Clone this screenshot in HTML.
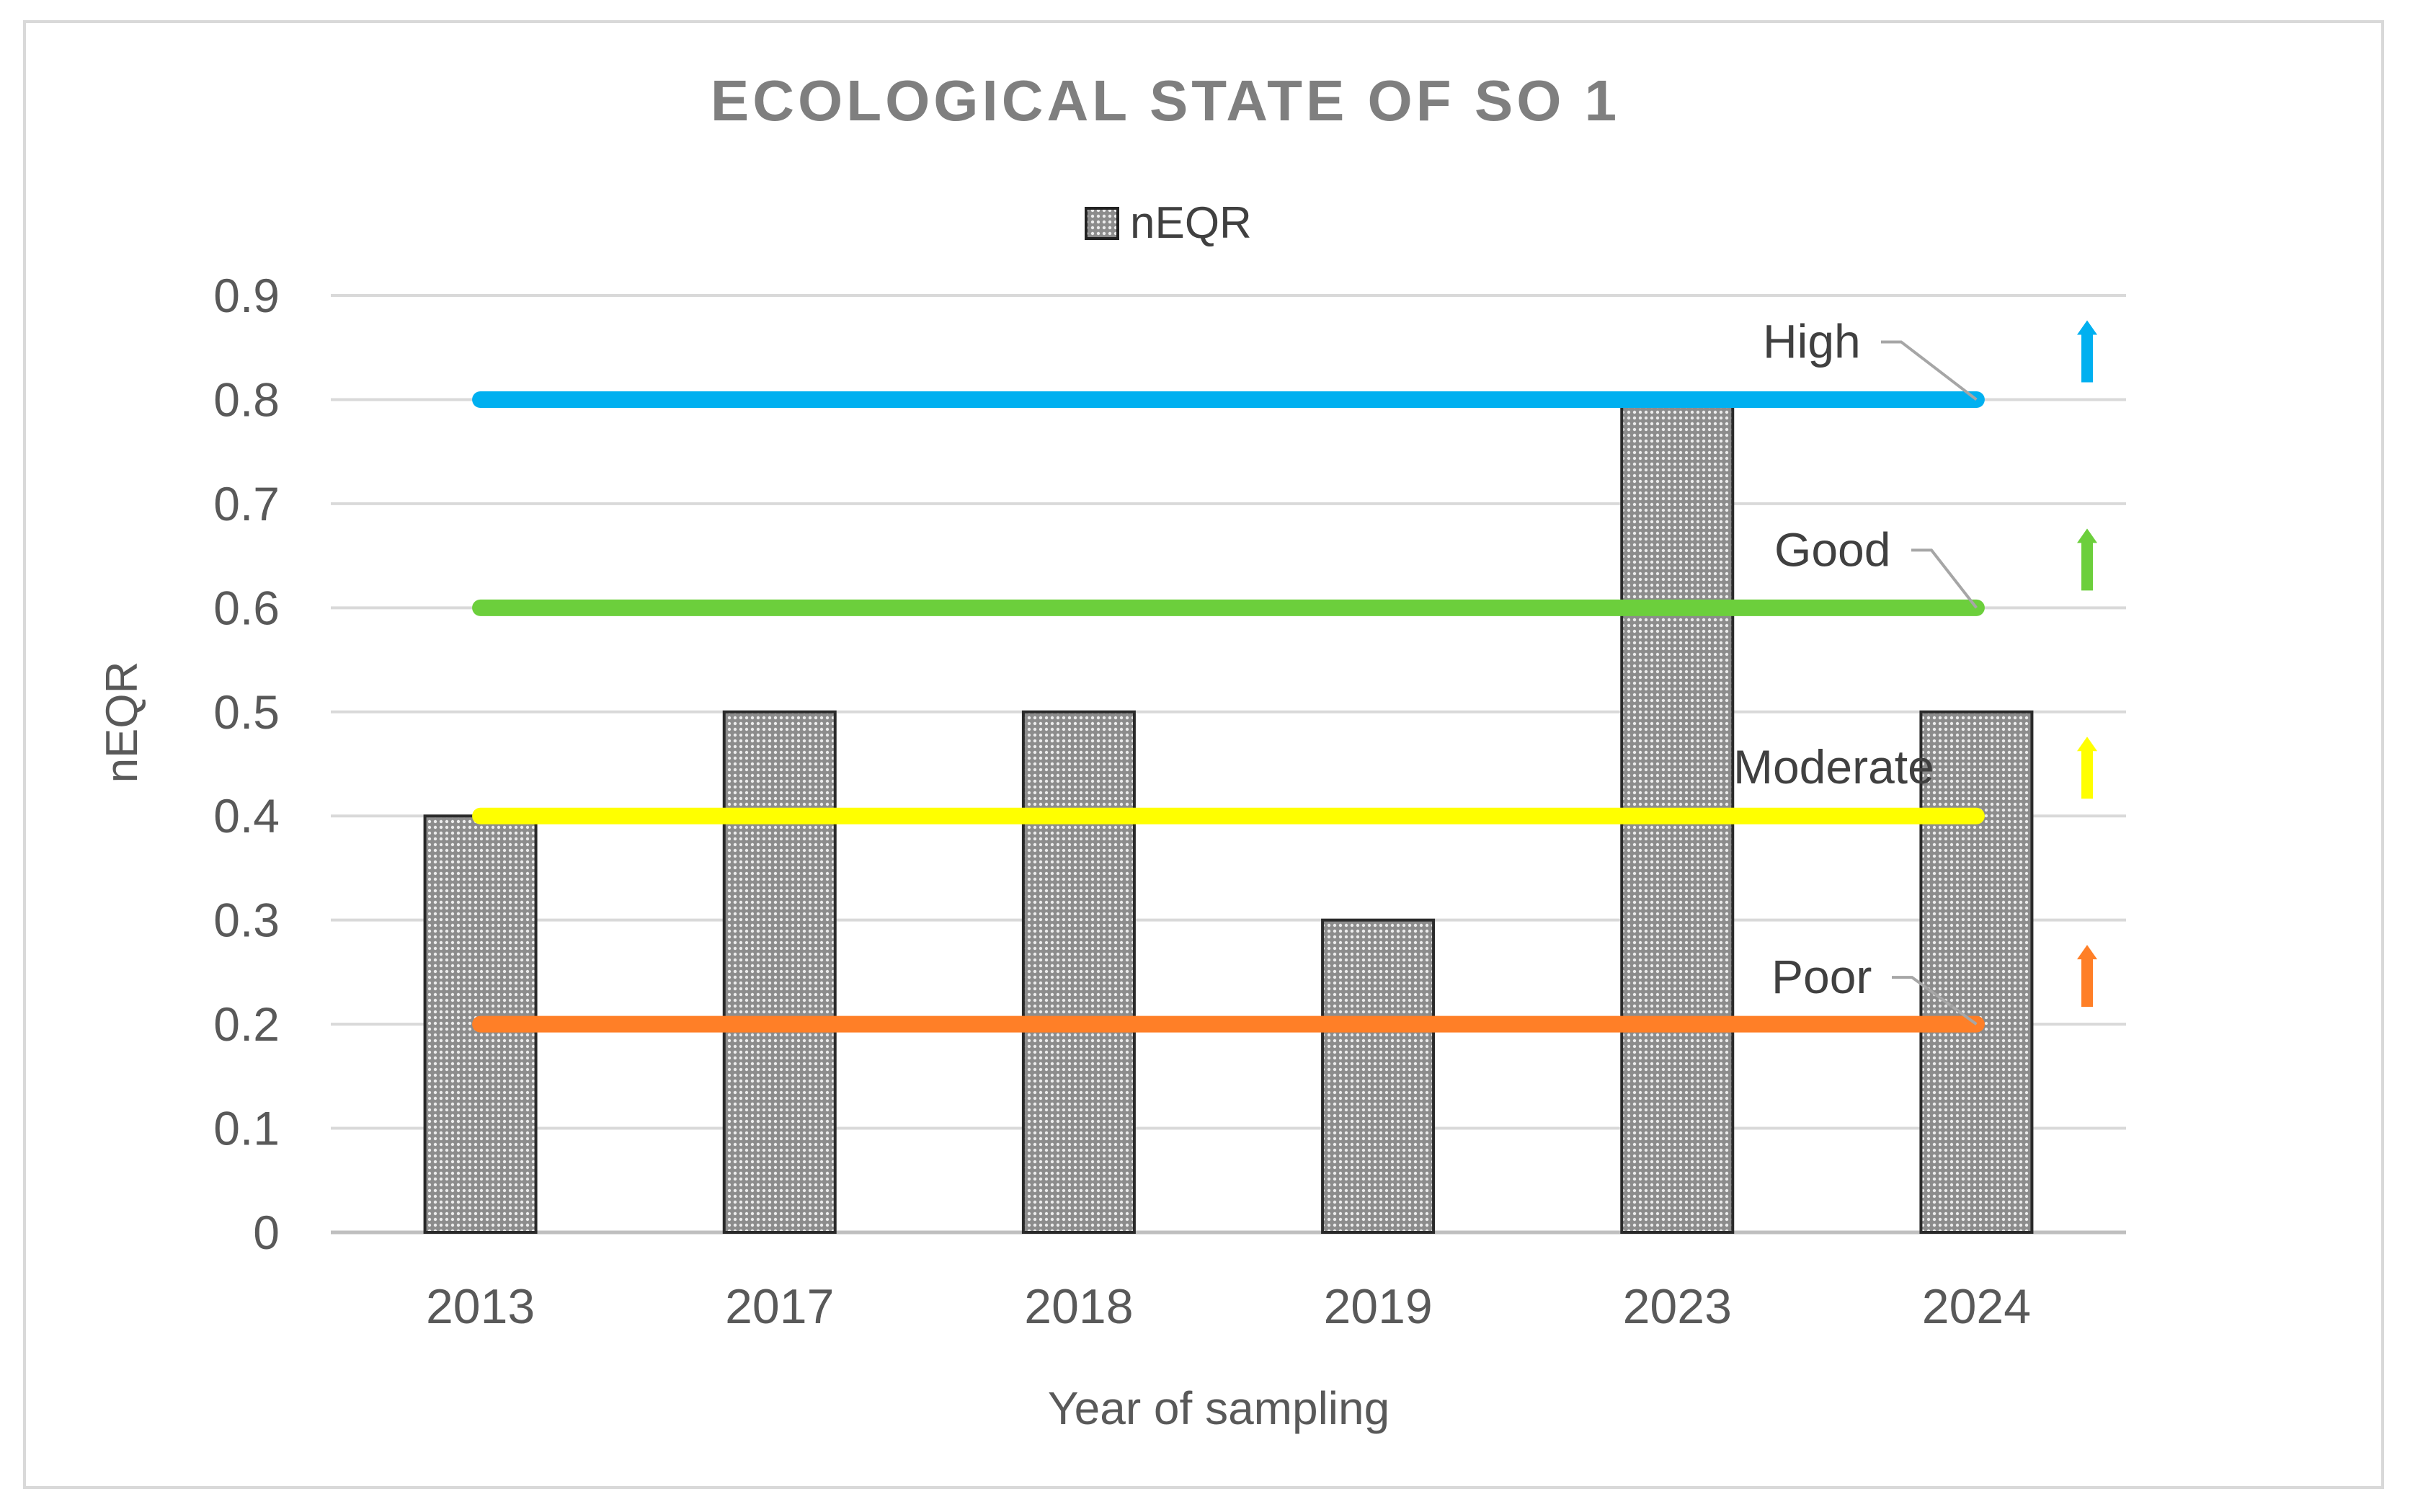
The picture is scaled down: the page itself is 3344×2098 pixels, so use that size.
<!DOCTYPE html>
<html><head><meta charset="utf-8"><style>
html,body{margin:0;padding:0;background:#fff;}
svg{display:block;font-family:"Liberation Sans",sans-serif;}
</style></head><body>
<svg id="chart" width="3344" height="2098" viewBox="0 0 3344 2098" xmlns="http://www.w3.org/2000/svg">
<defs>
<pattern id="dots" width="8" height="8" patternUnits="userSpaceOnUse">
<rect width="8" height="8" fill="#8c8c8c"/>
<circle cx="4" cy="4" r="2.2" fill="#ececec"/>
</pattern>
</defs>
<rect x="34" y="30" width="3272" height="2034" fill="#fff" stroke="#d9d9d9" stroke-width="4"/>
<text x="1617" y="167" text-anchor="middle" font-size="80" font-weight="bold" fill="#7f7f7f" letter-spacing="5">ECOLOGICAL STATE OF SO 1</text>
<g>
<rect x="1507" y="289" width="44" height="42" fill="url(#dots)" stroke="#222" stroke-width="4"/>
<text x="1568" y="330" font-size="62" fill="#404040">nEQR</text>
</g>
<g id="grid"></g>
<g id="bars"></g>
<g id="thresholds"></g>
<g id="xlabels"></g>
<text x="1691" y="1976" text-anchor="middle" font-size="64" fill="#595959">Year of sampling</text>
<text transform="translate(190,1002) rotate(-90)" text-anchor="middle" font-size="62" fill="#595959">nEQR</text>
</svg>
<script>
const categories = ["2013","2017","2018","2019","2023","2024"];
const values = [0.4, 0.5, 0.5, 0.3, 0.8, 0.5];
const yTicks = [0,0.1,0.2,0.3,0.4,0.5,0.6,0.7,0.8,0.9];
const yTickLabels = ["0","0.1","0.2","0.3","0.4","0.5","0.6","0.7","0.8","0.9"];
const thresholdNames = ["High","Good","Moderate","Poor"];
const thresholdValues = [0.8, 0.6, 0.4, 0.2];
const thresholdColors = ["#00b0f0","#6ccf3c","#ffff00","#ff7f27"];

const NS="http://www.w3.org/2000/svg";
const X0=459, X1=2950, Y0=1710, YTOP=410, YMAX=0.9;
const band=(X1-X0)/categories.length;
function xc(i){return X0+band*(i+0.5);}
function y(v){return Y0-(v/YMAX)*(Y0-YTOP);}
function mk(tag,attrs,parent){const e=document.createElementNS(NS,tag);for(const k in attrs)e.setAttribute(k,attrs[k]);parent.appendChild(e);return e;}

const grid=document.getElementById('grid');
yTicks.forEach((t,i)=>{
  const l=mk('line',{x1:X0,x2:X1,y1:y(t),y2:y(t),stroke:i===0?'#bfbfbf':'#d9d9d9','stroke-width':i===0?5:4},grid);
  
  
  const tx=mk('text',{x:388,y:y(t)+23,'text-anchor':'end','font-size':66,fill:'#595959'},grid);
  tx.textContent=yTickLabels[i];
  
  
});

const bars=document.getElementById('bars');
const BW=154;
values.forEach((v,i)=>{
  const r=mk('rect',{x:xc(i)-BW/2,y:y(v),width:BW,height:Y0-y(v),fill:'url(#dots)',stroke:'#2a2a2a','stroke-width':4},bars);
  
  
});

const xl=document.getElementById('xlabels');
categories.forEach((c,i)=>{
  const t=mk('text',{x:xc(i),y:1836,'text-anchor':'middle','font-size':68,fill:'#595959'},xl);
  t.textContent=c;
  
  
});

const th=document.getElementById('thresholds');
const lx0=xc(0), lx1=xc(categories.length-1);
const labelOff=[[2446,-58],[2462,-58],[2405,-45],[2458,-43]];
const leaderStart=[2610,2652,0,2625];
thresholdValues.forEach((v,i)=>{
  const yy=y(v);
  const l=mk('line',{x1:lx0,x2:lx1,y1:yy,y2:yy,stroke:thresholdColors[i],'stroke-width':23,'stroke-linecap':'round'},th);
  
  
  const lab=mk('text',{x:labelOff[i][0],y:yy+labelOff[i][1],'font-size':66,fill:'#404040'},th);
  lab.textContent=thresholdNames[i];
  
  
  if(thresholdNames[i]!=="Moderate"){
    const sx=leaderStart[i], sy=yy+labelOff[i][1]-22;
    const p=mk('polyline',{points:`${sx},${sy} ${sx+28},${sy} ${lx1},${yy}`,fill:'none',stroke:'#a6a6a6','stroke-width':4},th);
    
    
  }
  const ax=2896, ay1=yy-24, ay0=yy-110;
  const a=mk('polygon',{points:`${ax-8},${ay1} ${ax+8},${ay1} ${ax+8},${ay0+20} ${ax+14},${ay0+20} ${ax},${ay0} ${ax-14},${ay0+20} ${ax-8},${ay0+20}`,fill:thresholdColors[i]},th);
  
  
});
</script>
</body></html>
